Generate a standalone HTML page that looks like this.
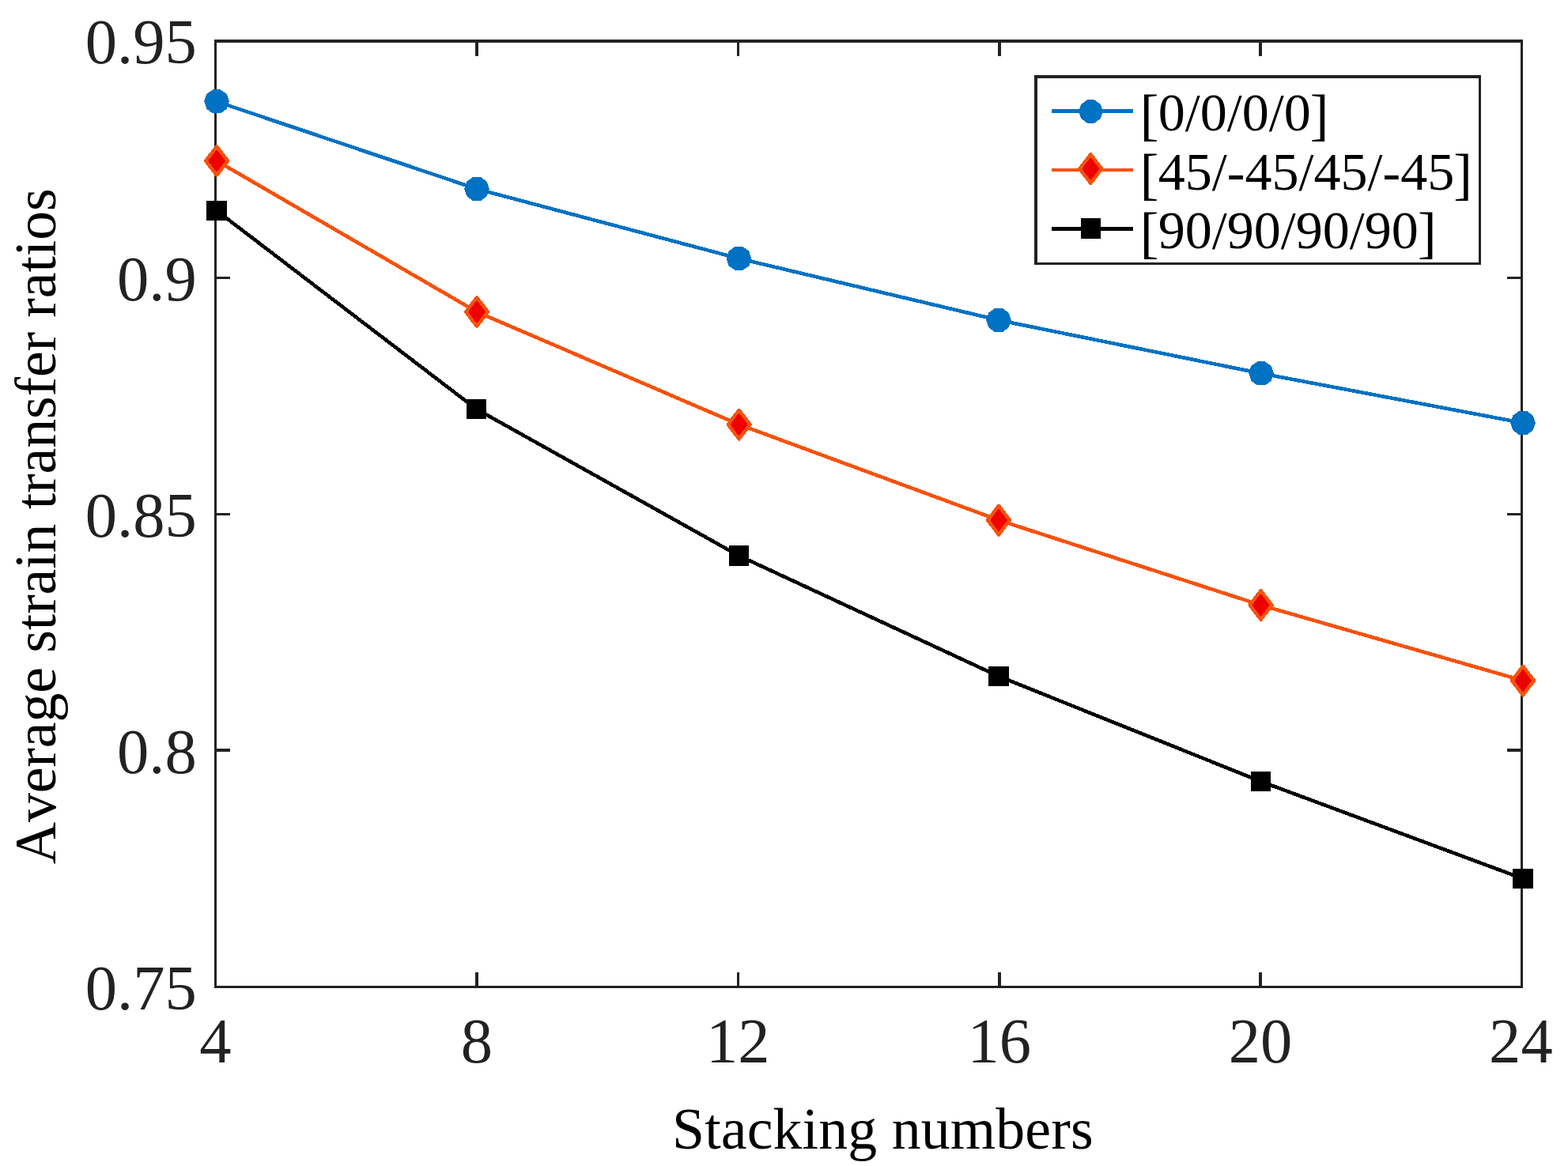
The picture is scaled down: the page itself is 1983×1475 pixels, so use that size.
<!DOCTYPE html>
<html lang="en"><head><meta charset="utf-8"><title>Average strain transfer ratios vs stacking numbers</title>
<style>html,body{margin:0;padding:0;background:#fff}body{width:1983px;height:1475px;overflow:hidden}svg{display:block}text{font-family:"Liberation Serif","DejaVu Serif",serif;font-kerning:none}.tk{font-size:80.6px;fill:#222222}.lb{font-size:73.8px;fill:#000}.lg{font-size:68.1px;fill:#000}</style></head><body>
<svg width="1983" height="1475" viewBox="0 0 1983 1475">
<rect width="1983" height="1475" fill="#fff"/>
<g fill="#222222" shape-rendering="crispEdges">
<rect x="271" y="50" width="1655" height="4"/>
<rect x="271" y="1247" width="1655" height="3"/>
<rect x="271" y="50" width="3" height="1200"/>
<rect x="1923" y="50" width="3" height="1200"/>
<rect x="601" y="54" width="4" height="17"/>
<rect x="601" y="1230" width="4" height="17"/>
<rect x="932" y="54" width="3" height="17"/>
<rect x="932" y="1230" width="3" height="17"/>
<rect x="1262" y="54" width="4" height="17"/>
<rect x="1262" y="1230" width="4" height="17"/>
<rect x="1592" y="54" width="4" height="17"/>
<rect x="1592" y="1230" width="4" height="17"/>
<rect x="274" y="350" width="17" height="3"/>
<rect x="1906" y="350" width="17" height="3"/>
<rect x="274" y="649" width="17" height="3"/>
<rect x="1906" y="649" width="17" height="3"/>
<rect x="274" y="947" width="17" height="4"/>
<rect x="1906" y="947" width="17" height="4"/>
</g>
<g shape-rendering="crispEdges">
<polyline fill="none" stroke="#0072C3" stroke-width="4.6" stroke-linejoin="round" points="274,128.4 603,239 934.5,327 1263,405 1595,472.4 1926,535"/>
<polygon points="289.80,128.40 286.78,137.69 278.88,143.43 269.12,143.43 261.22,137.69 258.20,128.40 261.22,119.11 269.12,113.37 278.88,113.37 286.78,119.11" fill="#0072C3"/>
<polygon points="618.80,239.00 615.78,248.29 607.88,254.03 598.12,254.03 590.22,248.29 587.20,239.00 590.22,229.71 598.12,223.97 607.88,223.97 615.78,229.71" fill="#0072C3"/>
<polygon points="950.30,327.00 947.28,336.29 939.38,342.03 929.62,342.03 921.72,336.29 918.70,327.00 921.72,317.71 929.62,311.97 939.38,311.97 947.28,317.71" fill="#0072C3"/>
<polygon points="1278.80,405.00 1275.78,414.29 1267.88,420.03 1258.12,420.03 1250.22,414.29 1247.20,405.00 1250.22,395.71 1258.12,389.97 1267.88,389.97 1275.78,395.71" fill="#0072C3"/>
<polygon points="1610.80,472.40 1607.78,481.69 1599.88,487.43 1590.12,487.43 1582.22,481.69 1579.20,472.40 1582.22,463.11 1590.12,457.37 1599.88,457.37 1607.78,463.11" fill="#0072C3"/>
<polygon points="1941.80,535.00 1938.78,544.29 1930.88,550.03 1921.12,550.03 1913.22,544.29 1910.20,535.00 1913.22,525.71 1921.12,519.97 1930.88,519.97 1938.78,525.71" fill="#0072C3"/>
<polyline fill="none" stroke="#F8520A" stroke-width="4.6" stroke-linejoin="round" points="274.1,203.5 603,394.5 934.6,537 1263,658 1594.5,765.5 1926,861"/>
<polygon points="273.1,183 275.1,183 290.1,202.5 290.1,204.5 275.1,224 273.1,224 258.1,204.5 258.1,202.5" fill="#F8520A"/>
<polygon points="273.3,189.9 274.9,189.9 284.6,202.7 284.6,204.3 274.9,217.1 273.3,217.1 263.6,204.3 263.6,202.7" fill="#EE0000"/>
<polygon points="602,374 604,374 619,393.5 619,395.5 604,415 602,415 587,395.5 587,393.5" fill="#F8520A"/>
<polygon points="602.2,380.9 603.8,380.9 613.5,393.7 613.5,395.3 603.8,408.1 602.2,408.1 592.5,395.3 592.5,393.7" fill="#EE0000"/>
<polygon points="933.6,516.5 935.6,516.5 950.6,536 950.6,538 935.6,557.5 933.6,557.5 918.6,538 918.6,536" fill="#F8520A"/>
<polygon points="933.8,523.4 935.4,523.4 945.1,536.2 945.1,537.8 935.4,550.6 933.8,550.6 924.1,537.8 924.1,536.2" fill="#EE0000"/>
<polygon points="1262,637.5 1264,637.5 1279,657 1279,659 1264,678.5 1262,678.5 1247,659 1247,657" fill="#F8520A"/>
<polygon points="1262.2,644.4 1263.8,644.4 1273.5,657.2 1273.5,658.8 1263.8,671.6 1262.2,671.6 1252.5,658.8 1252.5,657.2" fill="#EE0000"/>
<polygon points="1593.5,745 1595.5,745 1610.5,764.5 1610.5,766.5 1595.5,786 1593.5,786 1578.5,766.5 1578.5,764.5" fill="#F8520A"/>
<polygon points="1593.7,751.9 1595.3,751.9 1605,764.7 1605,766.3 1595.3,779.1 1593.7,779.1 1584,766.3 1584,764.7" fill="#EE0000"/>
<polygon points="1925,840.5 1927,840.5 1942,860 1942,862 1927,881.5 1925,881.5 1910,862 1910,860" fill="#F8520A"/>
<polygon points="1925.2,847.4 1926.8,847.4 1936.5,860.2 1936.5,861.8 1926.8,874.6 1925.2,874.6 1915.5,861.8 1915.5,860.2" fill="#EE0000"/>
<polyline fill="none" stroke="#000" stroke-width="4.6" stroke-linejoin="round" points="274,266.5 602.5,517.5 934.5,703 1263,855.5 1594.5,988.5 1926,1111.5"/>
<rect x="261" y="254" width="26" height="25" fill="#000"/>
<rect x="590" y="505" width="25" height="25" fill="#000"/>
<rect x="922" y="690" width="25" height="26" fill="#000"/>
<rect x="1250" y="843" width="26" height="25" fill="#000"/>
<rect x="1582" y="976" width="25" height="25" fill="#000"/>
<rect x="1913" y="1099" width="26" height="25" fill="#000"/>
</g>
<g shape-rendering="crispEdges">
<rect x="1308" y="95" width="565" height="240" fill="#222222"/>
<rect x="1312" y="99" width="558" height="233" fill="#fff"/>
<rect x="1330" y="138" width="103" height="5" fill="#0072C3"/>
<polygon points="1394.80,141.00 1391.88,149.99 1384.23,155.55 1374.77,155.55 1367.12,149.99 1364.20,141.00 1367.12,132.01 1374.77,126.45 1384.23,126.45 1391.88,132.01" fill="#0072C3"/>
<rect x="1330" y="213" width="103" height="4" fill="#F8520A"/>
<polygon points="1378.3,193 1380.3,193 1395.3,212.5 1395.3,214.5 1380.3,234 1378.3,234 1363.3,214.5 1363.3,212.5" fill="#F8520A"/>
<polygon points="1378.5,199.9 1380.1,199.9 1389.8,212.7 1389.8,214.3 1380.1,227.1 1378.5,227.1 1368.8,214.3 1368.8,212.7" fill="#EE0000"/>
<rect x="1330" y="287" width="103" height="5" fill="#000"/>
<rect x="1367" y="276" width="25" height="26" fill="#000"/>
</g>
<text class="lg" x="1441.7" y="165.3"><tspan dy="4" font-size="71px">[</tspan><tspan dy="-4" dx="-0.6">0/0/0/0</tspan><tspan dy="4" dx="-1" font-size="71px">]</tspan></text>
<text class="lg" x="1441.7" y="239.7"><tspan dy="4" font-size="71px">[</tspan><tspan dy="-4" dx="-0.6">45/-45/45/-45</tspan><tspan dy="4" dx="-1" font-size="71px">]</tspan></text>
<text class="lg" x="1441.7" y="314.2"><tspan dy="4" font-size="71px">[</tspan><tspan dy="-4" dx="-0.6">90/90/90/90</tspan><tspan dy="4" dx="-1" font-size="71px">]</tspan></text>
<text class="tk" x="248.8" y="79.9" text-anchor="end">0.95</text>
<text class="tk" x="248.8" y="379.6" text-anchor="end">0.9</text>
<text class="tk" x="248.8" y="678.8" text-anchor="end">0.85</text>
<text class="tk" x="248.8" y="977.9" text-anchor="end">0.8</text>
<text class="tk" x="248.8" y="1276.9" text-anchor="end">0.75</text>
<text class="tk" x="272.5" y="1344" text-anchor="middle">4</text>
<text class="tk" x="603" y="1344" text-anchor="middle">8</text>
<text class="tk" x="933.3" y="1344" text-anchor="middle">12</text>
<text class="tk" x="1263.7" y="1344" text-anchor="middle">16</text>
<text class="tk" x="1594.1" y="1344" text-anchor="middle">20</text>
<text class="tk" x="1923.4" y="1344" text-anchor="middle">24</text>
<text class="lb" x="850.05" y="1452.5" textLength="532.6" lengthAdjust="spacing">Stacking numbers</text>
<text class="lb" transform="translate(70 1093.2) rotate(-90)" textLength="854.9" lengthAdjust="spacing">Average strain transfer ratios</text>
</svg></body></html>
